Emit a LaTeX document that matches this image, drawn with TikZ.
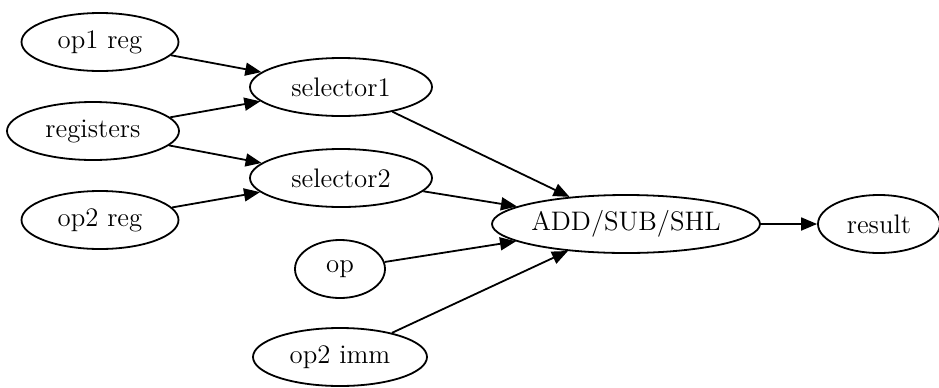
\documentclass[tikz,border=0pt]{standalone}
\usetikzlibrary{shapes.geometric,arrows.meta}
\begin{document}
\begin{tikzpicture}[x=0.5pt,y=-0.5pt,
  nd/.style={draw,ellipse,line width=0.9pt,inner sep=0pt,minimum height=29pt,
    font=\fontsize{13.4}{15}\selectfont},
  arr/.style={line width=0.9pt,-{Triangle[length=8pt,width=6.5pt]}}]
\useasboundingbox (0,0) rectangle (939,387);
\node[nd,minimum width=78.5pt] (op1) at (100,42) {op1 reg};
\node[nd,minimum width=86pt] (reg) at (93,131) {registers};
\node[nd,minimum width=78.5pt] (op2) at (100,220) {op2 reg};
\node[nd,minimum width=91pt] (s1) at (341,87) {selector1};
\node[nd,minimum width=91pt] (s2) at (341,178) {selector2};
\node[nd,minimum width=45pt] (op) at (340,269) {op};
\node[nd,minimum width=87pt] (imm) at (340,357) {op2 imm};
\node[nd,minimum width=134pt] (alu) at (626,224) {ADD/SUB/SHL};
\node[nd,minimum width=61pt] (res) at (879,224) {result};
\draw[arr] (op1) -- (s1);
\draw[arr] (reg) -- (s1);
\draw[arr] (reg) -- (s2);
\draw[arr] (op2) -- (s2);
\draw[arr] (s1) -- (alu);
\draw[arr] (s2) -- (alu);
\draw[arr] (op) -- (alu);
\draw[arr] (imm) -- (alu);
\draw[arr] (alu) -- (res);
\end{tikzpicture}
\end{document}
